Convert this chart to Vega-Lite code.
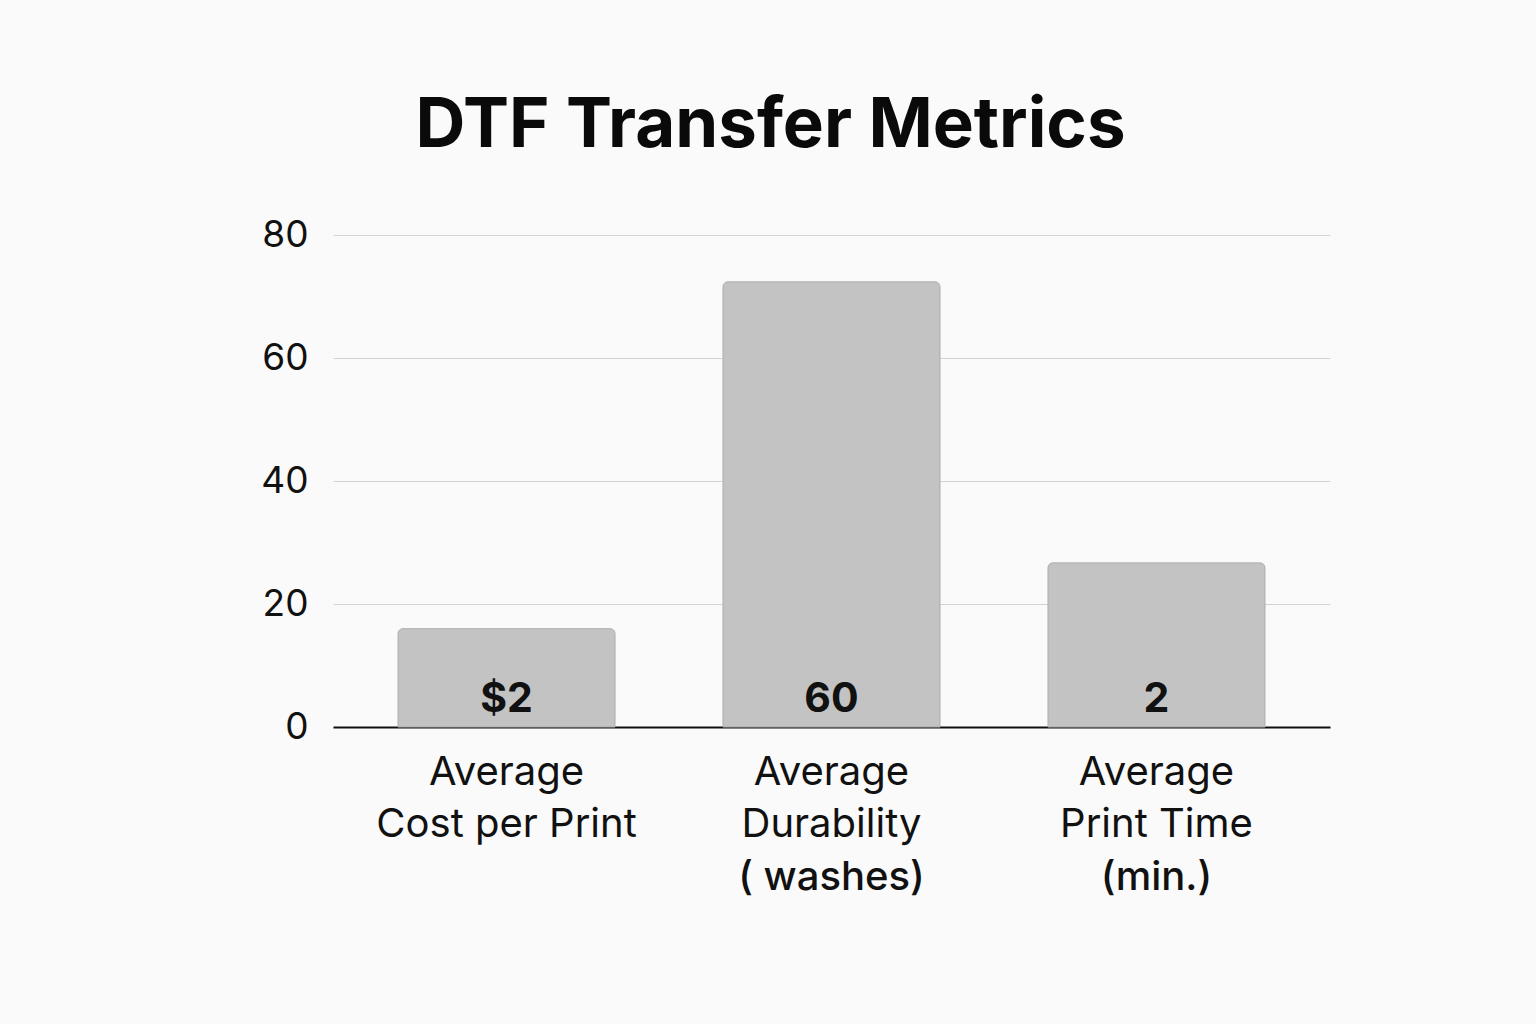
{
  "$schema": "https://vega.github.io/schema/vega-lite/v6.json",
  "autosize": "none",
  "width": 997,
  "height": 492,
  "padding": {"left": 333, "top": 235, "right": 206, "bottom": 297},
  "background": "#fafafa",
  "title": {
    "text": "DTF Transfer Metrics",
    "font": "Inter",
    "fontSize": 69,
    "fontWeight": "bold",
    "color": "#0a0a0a",
    "anchor": "middle",
    "frame": "group",
    "dx": -61,
    "offset": 55
  },
  "config": {
    "view": {"stroke": null},
    "font": "Inter"
  },
  "data": {
    "values": [
      {"metric": "Average Cost per Print", "value": 16, "label": "$2", "line12": "Average|Cost per Print", "line3": ""},
      {"metric": "Average Durability (washes)", "value": 72.4, "label": "60", "line12": "Average|Durability", "line3": "( washes)"},
      {"metric": "Average Print Time (min.)", "value": 26.7, "label": "2", "line12": "Average|Print Time", "line3": "(min.)"}
    ]
  },
  "encoding": {
    "x": {
      "field": "metric",
      "type": "nominal",
      "sort": null,
      "scale": {"paddingInner": 0.332, "paddingOuter": 0.2},
      "axis": {"labels": false, "ticks": false, "title": null, "domainColor": "#111111", "domainWidth": 2}
    }
  },
  "layer": [
    {
      "mark": {"type": "bar", "color": "#c3c3c3", "stroke": "#b3b3b3", "strokeWidth": 1, "cornerRadiusTopLeft": 5, "cornerRadiusTopRight": 5},
      "encoding": {
        "y": {
          "field": "value",
          "type": "quantitative",
          "scale": {"domain": [0, 80]},
          "axis": {
            "values": [0, 20, 40, 60, 80],
            "title": null,
            "domain": false,
            "ticks": false,
            "labelFontSize": 37,
            "labelColor": "#111111",
            "labelPadding": 25,
            "gridColor": "#d2d2d2",
            "gridWidth": 1.2
          }
        }
      }
    },
    {
      "mark": {"type": "text", "baseline": "alphabetic", "dy": -15, "fontSize": 41, "fontWeight": "bold", "color": "#111111"},
      "encoding": {
        "y": {"datum": 0, "type": "quantitative"},
        "text": {"field": "label"}
      }
    },
    {
      "mark": {"type": "text", "baseline": "alphabetic", "dy": 58, "fontSize": 40, "lineBreak": "|", "lineHeight": 52, "color": "#111111"},
      "encoding": {
        "y": {"datum": 0, "type": "quantitative"},
        "text": {"field": "line12"}
      }
    },
    {
      "mark": {"type": "text", "baseline": "alphabetic", "dy": 163, "fontSize": 40, "fontWeight": 500, "color": "#111111"},
      "encoding": {
        "y": {"datum": 0, "type": "quantitative"},
        "text": {"field": "line3"}
      }
    }
  ]
}
